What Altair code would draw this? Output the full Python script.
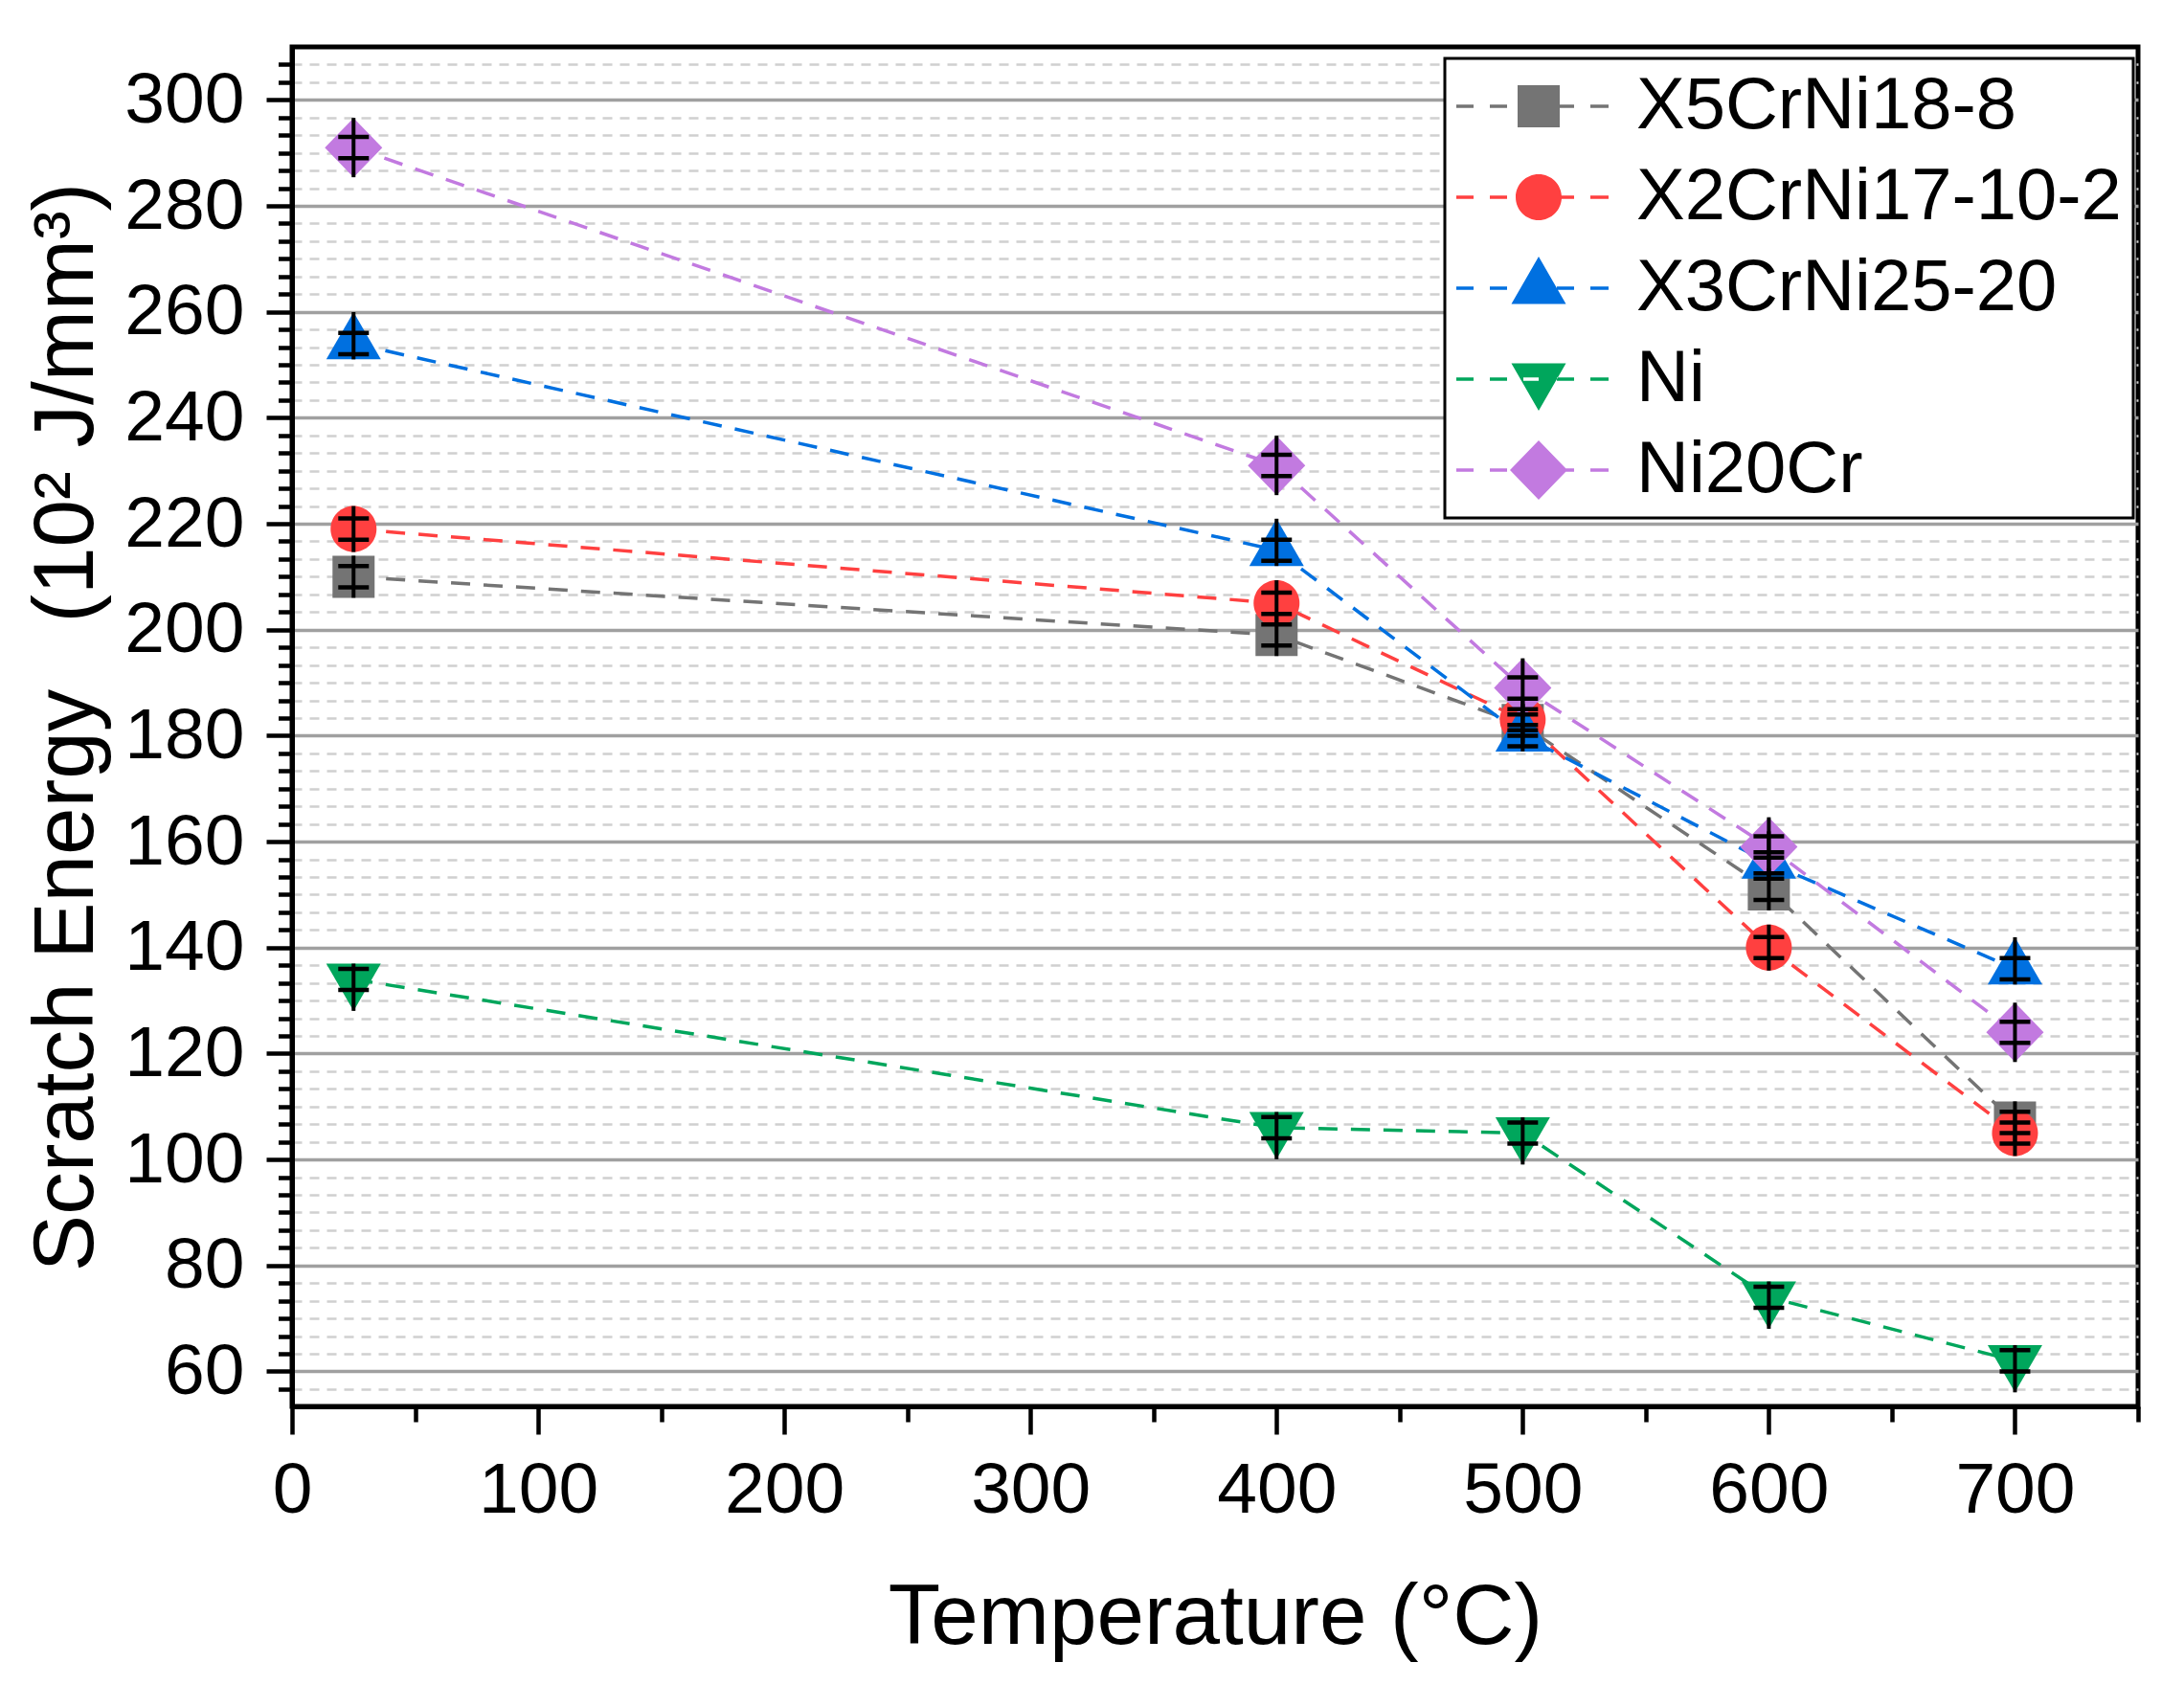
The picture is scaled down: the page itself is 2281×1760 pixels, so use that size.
import altair as alt
import pandas as pd

# ---------------- data ----------------
series = ["X5CrNi18-8", "X2CrNi17-10-2", "X3CrNi25-20", "Ni", "Ni20Cr"]
temps = [25, 400, 500, 600, 700]
x5crni18_8 = [210, 199, 182, 151, 107]
x2crni17_10_2 = [219, 205, 183, 140, 105]
x3crni25_20 = [254, 215, 180, 156, 136]
ni = [134, 106, 105, 74, 62]
ni20cr = [291, 231, 189, 159, 124]
err_x5 = [2, 2, 2, 2, 2]
err_x2 = [2, 2, 2, 2, 2]
err_x3 = [2, 2, 2, 2, 2]
err_ni = [2, 2, 2, 2, 2]
err_ni20 = [2, 2, 2, 2, 2]

x_major_ticks = [0, 100, 200, 300, 400, 500, 600, 700]
x_minor_ticks = [50, 150, 250, 350, 450, 550, 650, 750]
y_major_ticks = [60, 80, 100, 120, 140, 160, 180, 200, 220, 240, 260, 280, 300]
x_title = "Temperature (°C)"
y_title = "Scratch Energy\u2002\u00a0(10² J/mm³)"

values = [x5crni18_8, x2crni17_10_2, x3crni25_20, ni, ni20cr]
errors = [err_x5, err_x2, err_x3, err_ni, err_ni20]

rows = []
for s, vals, errs in zip(series, values, errors):
    for t, v, e in zip(temps, vals, errs):
        rows.append({"series": s, "temp": t, "value": v, "err": e})
df = pd.DataFrame(rows)
df["idx"] = range(len(df))

# ---------------- styles ----------------
colors = ["#747474", "#ff4040", "#0070e0", "#00a65c", "#c27ae0"]
FONT = "Liberation Sans"
X_DOMAIN = [0, 750]
Y_DOMAIN = [53.4, 310]
y_minor_ticks = []
for m in range(40, 320, 20):
    for k in range(1, 6):
        v = round(m + k * 20 / 6, 3)
        if Y_DOMAIN[0] < v < Y_DOMAIN[1]:
            y_minor_ticks.append(v)

# marker shapes (unit = 30 px, size 3600)
marker_paths = [
    "M-0.733,-0.733H0.733V0.733H-0.733Z",
    "M0.8,0A0.8,0.8,0,1,1,-0.8,0A0.8,0.8,0,1,1,0.8,0Z",
    "M0,-1.097L0.95,0.549L-0.95,0.549Z",
    "M0,1.097L0.95,-0.549L-0.95,-0.549Z",
    "M0,-1.033L1,0L0,1.033L-1,0Z",
]
vline_paths = [
    "M0,-0.733L0,0.733",
    "M0,-0.8L0,0.8",
    "M0,-1.097L0,0.549",
    "M0,-0.549L0,1.097",
    "M0,-1.033L0,1.033",
]
dash_px = [(-86, -68), (-51, -33), (-16, 0), (19, 37), (54, 73)]
def dash_rects():
    out = ""
    for a, b in dash_px:
        out += f"M{a/30:.3f},-0.057H{b/30:.3f}V0.057H{a/30:.3f}Z"
    return out
legend_paths = [dash_rects() + p for p in marker_paths]

xs = alt.Scale(domain=X_DOMAIN, nice=False, zero=False)
ys = alt.Scale(domain=Y_DOMAIN, nice=False, zero=False)

major_x_axis = alt.Axis(
    values=x_major_ticks, title=x_title, orient="bottom", grid=False,
    tickSize=29, tickWidth=4.5, tickColor="black",
    domainColor="black", domainWidth=5,
    labelFontSize=75, labelFont=FONT, labelColor="black", labelPadding=81,
    labelBaseline="alphabetic", labelFlush=False, labelOverlap=False, format="d",
    titleFontSize=89, titleFont=FONT, titleFontWeight="normal", titleColor="black",
    titleX=964, titleY=247, titleBaseline="alphabetic", titleAlign="center", titleAngle=0,
)
major_y_axis = alt.Axis(
    values=y_major_ticks, title=y_title, orient="left", grid=True,
    gridColor="#a0a0a0", gridWidth=3.3,
    tickSize=27, tickWidth=4.5, tickColor="black",
    domainColor="black", domainWidth=5,
    labelFontSize=75, labelFont=FONT, labelColor="black", labelPadding=23,
    labelFlush=False, labelOverlap=False, format="d",
    titleFontSize=89, titleFont=FONT, titleFontWeight="normal", titleColor="black",
    titleX=-209, titleY=710, titleAngle=270, titleBaseline="alphabetic", titleAlign="center",
)
minor_x_axis = alt.Axis(
    values=x_minor_ticks, title=None, orient="bottom", grid=False, labels=False,
    tickSize=16, tickWidth=4.5, tickColor="black", domain=False,
)
minor_y_axis = alt.Axis(
    values=y_minor_ticks, title=None, orient="left", grid=True, labels=False,
    gridColor="#d0d0d0", gridWidth=2.7, gridDash=[10, 8],
    tickSize=14.5, tickWidth=4.5, tickColor="black", domain=False,
)

def color_enc(legend=None):
    return alt.Color("series:N", scale=alt.Scale(domain=series, range=colors), legend=legend)

base = alt.Chart(df)

lines = base.mark_line(strokeDash=[20, 14], strokeWidth=3.5).encode(
    x=alt.X("temp:Q", scale=xs, axis=major_x_axis),
    y=alt.Y("value:Q", scale=ys, axis=major_y_axis),
    color=color_enc(),
    detail="series:N",
    order="temp:Q",
)

caps = base.transform_calculate(
    lo="datum.value - datum.err", hi="datum.value + datum.err"
).transform_fold(["lo", "hi"], as_=["which", "capval"]).mark_point(
    shape="M-1,0L1,0", size=1024, filled=False, color="black", strokeWidth=4.5, opacity=1
).encode(
    x=alt.X("temp:Q", scale=xs, axis=minor_x_axis),
    y=alt.Y("capval:Q", scale=ys, axis=minor_y_axis),
)

markers = base.mark_point(filled=True, opacity=1, size=3600, strokeWidth=0).encode(
    x=alt.X("temp:Q", scale=xs, axis=None),
    y=alt.Y("value:Q", scale=ys, axis=None),
    color=color_enc(),
    shape=alt.Shape("series:N", scale=alt.Scale(domain=series, range=marker_paths), legend=None),
    order="idx:Q",
)

vlines = base.mark_point(filled=False, opacity=1, size=3600, strokeWidth=4, color="black").encode(
    x=alt.X("temp:Q", scale=xs, axis=None),
    y=alt.Y("value:Q", scale=ys, axis=None),
    shape=alt.Shape("series:N", scale=alt.Scale(domain=series, range=vline_paths), legend=None),
)

leg_props = dict(
    title=None, orient="none", legendX=1204, legendY=12,
    symbolSize=3600, symbolOffset=48, symbolStrokeWidth=0, symbolOpacity=1,
    labelOffset=64, labelFontSize=76, labelFont=FONT, labelColor="black", labelLimit=1000,
    padding=12, rowPadding=19, strokeColor="black", fillColor="white",
)

legend_layer = base.transform_filter("false").mark_point(
    filled=True, opacity=1, size=3600, strokeWidth=0
).encode(
    x=alt.X("temp:Q", scale=xs, axis=None),
    y=alt.Y("value:Q", scale=ys, axis=None),
    color=color_enc(alt.Legend(**leg_props)),
    shape=alt.Shape("series:N", scale=alt.Scale(domain=series, range=legend_paths),
                    legend=alt.Legend(**leg_props)),
)

chart = alt.layer(lines, markers, caps, vlines, legend_layer).resolve_scale(
    color="independent", shape="independent"
).resolve_axis(
    x="independent", y="independent"
).properties(
    width=1928, height=1420,
    autosize=alt.AutoSizeParams(type="none"),
    padding={"left": 297, "top": 41, "right": 40, "bottom": 280},
).configure(font=FONT).configure_view(
    stroke="black", strokeWidth=5
).configure_legend(strokeWidth=3)

chart.save("out.html", embed_options={"renderer": "svg", "actions": False})
